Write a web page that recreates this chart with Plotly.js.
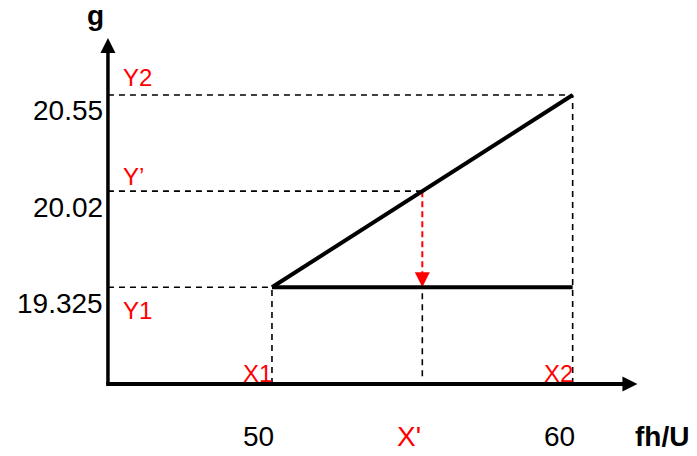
<!DOCTYPE html>
<html>
<head>
<meta charset="utf-8">
<script src="https://cdn.plot.ly/plotly-3.0.1.min.js"></script>
<style>html,body{margin:0;padding:0;background:#fff;}#chart{width:697px;height:456px;}</style>
</head>
<body>
<div id="chart"></div>
<script>
// ---- data ----
const xTickLabels = ['50', "X'", '60'];          // values along fh/U
const xTickColors = ['#000000', '#ff0000', '#000000'];
const yTickLabels = ['19.325', '20.02', '20.55']; // values along g
const xPointNames = ['X1', '', 'X2'];
const yPointNames = ['Y1', 'Y\u2019', 'Y2'];
const xAxisTitle = 'fh/U';
const yAxisTitle = 'g';

// ---- layout geometry (schematic, evenly spaced points) ----
const X_RANGE = [-1.809, 2.827];
const Y_RANGE = [-1.755, 2.988];
const AX0 = -1.091;  // x position of the vertical axis
const AY0 = -1.006;  // y position of the horizontal axis
const X_TIP = 2.431;
const Y_TIP = 2.593;

const idx = xTickLabels.map((_, i) => i);
const iLow = 0, iMid = 1, iHigh = 2;

const FONT = 'Liberation Sans, Arial, sans-serif';
const BLACK = '#000000', RED = '#ff0000';

const traces = [];

// dashed horizontal guides (from axis to the point on the sloped line)
const hx = [], hy = [];
yTickLabels.forEach((_, j) => { hx.push(AX0, idx[j], null); hy.push(j, j, null); });
traces.push({x: hx, y: hy, mode: 'lines', line: {color: BLACK, width: 1.6, dash: '6px,5px'}, hoverinfo: 'skip'});

// dashed vertical guides
const vx = [], vy = [];
[[iLow, iLow], [iMid, iLow], [iHigh, iHigh]].forEach(([i, top]) => {
  vx.push(idx[i], idx[i], null); vy.push(AY0 + (i === iMid ? 0.08 : 0), top, null);
});
traces.push({x: vx, y: vy, mode: 'lines', line: {color: BLACK, width: 1.6, dash: '6px,5px'}, hoverinfo: 'skip'});

// red dashed interpolation arrow X' : from Y' down to Y1 line
traces.push({x: [idx[iMid], idx[iMid]], y: [iMid, iLow + 0.1], mode: 'lines',
  line: {color: RED, width: 2, dash: '6px,4px'}, hoverinfo: 'skip'});
traces.push({x: [idx[iMid]], y: [iLow], mode: 'markers',
  marker: {symbol: 'arrow-down', size: 15, color: RED, line: {width: 0}}, hoverinfo: 'skip'});

// sloped line Y1 -> Y2
traces.push({x: [idx[iLow], idx[iHigh]], y: [iLow, iHigh], mode: 'lines',
  line: {color: BLACK, width: 4}, hoverinfo: 'skip'});
// horizontal line at Y1
traces.push({x: [idx[iLow], idx[iHigh]], y: [iLow, iLow], mode: 'lines',
  line: {color: BLACK, width: 4}, hoverinfo: 'skip'});

// axes with arrowheads
traces.push({x: [AX0 - 0.012, X_TIP - 0.06], y: [AY0, AY0], mode: 'lines', line: {color: BLACK, width: 4}, hoverinfo: 'skip'});
traces.push({x: [AX0, AX0], y: [AY0, Y_TIP - 0.09], mode: 'lines', line: {color: BLACK, width: 3.5}, hoverinfo: 'skip'});
traces.push({x: [X_TIP], y: [AY0], mode: 'markers', marker: {symbol: 'arrow-right', size: 15, color: BLACK, line: {width: 0}}, hoverinfo: 'skip'});
traces.push({x: [AX0], y: [Y_TIP], mode: 'markers', marker: {symbol: 'arrow-up', size: 15, color: BLACK, line: {width: 0}}, hoverinfo: 'skip'});

// ---- annotations (labels) ----
const ann = [];
yTickLabels.forEach((t, j) => ann.push({x: AX0, y: j, text: t, showarrow: false,
  xanchor: 'right', yanchor: 'middle', xshift: -3, yshift: -16,
  font: {family: FONT, size: 28, color: BLACK}}));
const yNameShift = [-23, 15, 17];
yPointNames.forEach((t, j) => ann.push({x: AX0, y: j, text: t, showarrow: false,
  xanchor: 'left', yanchor: 'middle', xshift: 13, yshift: yNameShift[j],
  font: {family: FONT, size: 24, color: RED}}));
xTickLabels.forEach((t, i) => ann.push({x: idx[i], y: AY0, text: t, showarrow: false,
  xanchor: 'center', yanchor: 'middle', xshift: -13, yshift: -53,
  font: {family: FONT, size: 28, color: xTickColors[i]}}));
xPointNames.forEach((t, i) => { if (t) ann.push({x: idx[i], y: AY0, text: t, showarrow: false,
  xanchor: 'center', yanchor: 'middle', xshift: -14, yshift: 10,
  font: {family: FONT, size: 24, color: RED}}); });
ann.push({x: X_TIP, y: AY0, text: '<b>' + xAxisTitle + '</b>', showarrow: false,
  xanchor: 'center', yanchor: 'middle', xshift: 25, yshift: -53,
  font: {family: FONT, size: 28, color: BLACK}});
ann.push({x: AX0, y: Y_TIP, text: '<b>' + yAxisTitle + '</b>', showarrow: false,
  xanchor: 'center', yanchor: 'middle', xshift: -12, yshift: 22,
  font: {family: FONT, size: 28, color: BLACK}});

const layout = {
  width: 697, height: 456,
  margin: {l: 0, r: 0, t: 0, b: 0},
  paper_bgcolor: '#ffffff', plot_bgcolor: '#ffffff',
  showlegend: false,
  xaxis: {range: X_RANGE, visible: false, fixedrange: true},
  yaxis: {range: Y_RANGE, visible: false, fixedrange: true},
  annotations: ann
};

Plotly.newPlot('chart', traces, layout, {displayModeBar: false, staticPlot: true});
</script>
</body>
</html>
